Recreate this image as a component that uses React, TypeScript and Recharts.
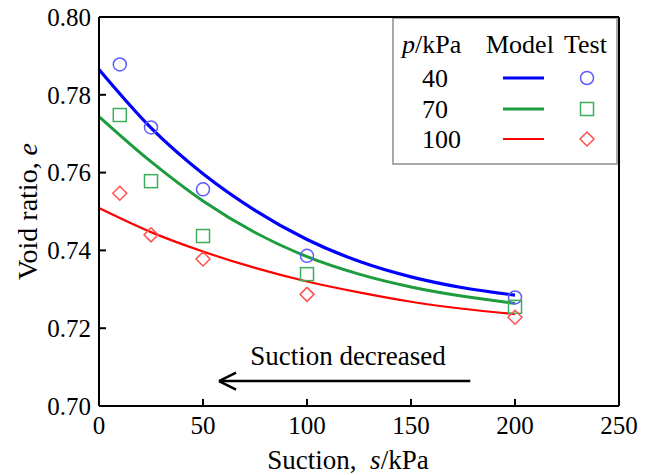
import React from 'react';
import {
  ComposedChart, Line, Scatter, XAxis, YAxis, ReferenceLine, ReferenceDot, Legend, Label
} from 'recharts';

// model curves
const modelS = [0, 25, 50, 75, 100, 125, 150, 175, 200];
const model40 = [0.7865, 0.7715, 0.7597, 0.7503, 0.7428, 0.7372, 0.7332, 0.7304, 0.7285];
const model70 = [0.7744, 0.7628, 0.7527, 0.7446, 0.7384, 0.7339, 0.7306, 0.7282, 0.7264];
const model100 = [0.7509, 0.7447, 0.7397, 0.7355, 0.732, 0.7292, 0.7268, 0.725, 0.7236];

// test points
const testS = [10, 25, 50, 100, 200];
const test40 = [0.7878, 0.7716, 0.7557, 0.7386, 0.7279];
const test70 = [0.7748, 0.7578, 0.7437, 0.7339, 0.7255];
const test100 = [0.7547, 0.744, 0.7378, 0.7287, 0.7228];

const pressures = ['40', '70', '100'];
const lineColors = ['#0000ff', '#1c9c3c', '#ff0000'];
const markColors = ['#5c5cff', '#3fae5c', '#ff5050'];
const lineWidths = [3.2, 3, 2.2];

const xTicks = [0, 50, 100, 150, 200, 250];
const yTicks = [0.7, 0.72, 0.74, 0.76, 0.78, 0.8];

// annotation arrow: tail, tip, head size (data units)
const arrowTail = 178.5;
const arrowTip = 57.7;
const arrowE = 0.7064;
const headDx = 8.2;
const headDe = 0.0022;

const FONT = "'Liberation Serif', 'DejaVu Serif', serif";

const toPts = (xs: number[], ys: number[]) => xs.map((s, i) => ({ s, e: ys[i] }));
const curves = [model40, model70, model100].map((v) => toPts(modelS, v));
const tests = [test40, test70, test100].map((v) => toPts(testS, v));

const CircleMark = (p: any) => (
  <circle cx={p.cx} cy={p.cy} r={6.5} fill="none" stroke={markColors[0]} strokeWidth={1.5} />
);
const SquareMark = (p: any) => (
  <rect x={p.cx - 6.5} y={p.cy - 6.5} width={13} height={13} fill="none" stroke={markColors[1]} strokeWidth={1.5} />
);
const DiamondMark = (p: any) => (
  <polygon
    points={`${p.cx},${p.cy - 7} ${p.cx + 7},${p.cy} ${p.cx},${p.cy + 7} ${p.cx - 7},${p.cy}`}
    fill="none" stroke={markColors[2]} strokeWidth={1.5}
  />
);
const shapes = [CircleMark, SquareMark, DiamondMark];

const LegendBox = () => {
  const rows = [60, 91, 121];
  return (
    <svg width={226} height={147} style={{ display: 'block' }} fontFamily={FONT}>
      <rect x={1} y={0} width={224} height={146} fill="none" stroke="#a8a8a8" strokeWidth={2} />
      <text x={10} y={35} fontSize={26} fill="#000">
        <tspan fontStyle="italic">p</tspan>/kPa
      </text>
      <text x={94} y={35} fontSize={26} fill="#000">Model</text>
      <text x={172} y={35} fontSize={26} fill="#000">Test</text>
      {pressures.map((p, i) => {
        const y = rows[i];
        const Mark = shapes[i];
        return (
          <g key={p}>
            <text x={30} y={y + 9} fontSize={26} fill="#000">{p}</text>
            <line x1={111} x2={152} y1={y} y2={y} stroke={lineColors[i]} strokeWidth={lineWidths[i]} />
            <Mark cx={195} cy={y} />
          </g>
        );
      })}
    </svg>
  );
};

export default function App() {
  return (
    <div style={{ position: 'absolute', left: 0, top: 0, fontFamily: FONT }}>
      <ComposedChart
        width={652}
        height={475}
        margin={{ top: 17, right: 33, bottom: 0, left: 0 }}
        style={{ fontFamily: FONT }}
      >
        <XAxis
          dataKey="s"
          type="number"
          domain={[0, 250]}
          ticks={xTicks}
          height={69}
          stroke="#000"
          strokeWidth={2}
          tickSize={-7}
          tickMargin={17}
          tick={{ fill: '#000', fontSize: 25, fontFamily: FONT }}
        >
          <Label
            content={({ viewBox }: any) => (
              <text
                x={viewBox.x + viewBox.width / 2 - 11}
                y={viewBox.y + 63}
                textAnchor="middle"
                fontSize={27}
                fill="#000"
                fontFamily={FONT}
                style={{ whiteSpace: 'pre' }}
              >
                Suction,  <tspan fontStyle="italic">s</tspan>/kPa
              </text>
            )}
          />
        </XAxis>
        <YAxis
          dataKey="e"
          type="number"
          domain={[0.7, 0.8]}
          ticks={yTicks}
          width={99}
          stroke="#000"
          strokeWidth={2}
          tickSize={-7}
          tickMargin={15}
          tickFormatter={(v: number) => v.toFixed(2)}
          tick={{ fill: '#000', fontSize: 25, fontFamily: FONT }}
        >
          <Label
            content={({ viewBox }: any) => {
              const cx = 27;
              const cy = viewBox.y + viewBox.height / 2;
              return (
                <text
                  x={cx}
                  y={cy}
                  transform={`rotate(-90, ${cx}, ${cy})`}
                  textAnchor="middle"
                  dominantBaseline="central"
                  fontSize={28}
                  fill="#000"
                  fontFamily={FONT}
                  style={{ whiteSpace: 'pre' }}
                >
                  Void ratio, <tspan fontStyle="italic">e</tspan>
                </text>
              );
            }}
          />
        </YAxis>
        <ReferenceLine y={0.8} stroke="#000" strokeWidth={2} />
        <ReferenceLine x={250} stroke="#000" strokeWidth={2} />

        {curves.map((d, i) => (
          <Line
            key={`m${i}`}
            data={d}
            dataKey="e"
            type="monotone"
            stroke={lineColors[i]}
            strokeWidth={lineWidths[i]}
            dot={false}
            activeDot={false}
            isAnimationActive={false}
          />
        ))}
        {tests.map((d, i) => (
          <Scatter
            key={`t${i}`}
            data={d}
            dataKey="e"
            shape={shapes[i]}
            isAnimationActive={false}
          />
        ))}

        <ReferenceLine
          segment={[{ x: arrowTail, y: arrowE }, { x: arrowTip, y: arrowE }]}
          stroke="#000"
          strokeWidth={2.5}
        />
        <ReferenceLine
          segment={[{ x: arrowTip, y: arrowE }, { x: arrowTip + headDx, y: arrowE + headDe }]}
          stroke="#000"
          strokeWidth={2.5}
        />
        <ReferenceLine
          segment={[{ x: arrowTip, y: arrowE }, { x: arrowTip + headDx, y: arrowE - headDe }]}
          stroke="#000"
          strokeWidth={2.5}
        />
        <ReferenceDot
          x={119.7}
          y={0.7131}
          r={0}
          fill="none"
          stroke="none"
          label={{ value: 'Suction decreased', position: 'center', fontSize: 27, fill: '#000', fontFamily: FONT }}
        />

        <Legend
          layout="horizontal"
          verticalAlign="middle"
          align="center"
          content={() => <LegendBox />}
          wrapperStyle={{ left: 392, top: 18, width: 226, height: 147 }}
        />
      </ComposedChart>
    </div>
  );
}
